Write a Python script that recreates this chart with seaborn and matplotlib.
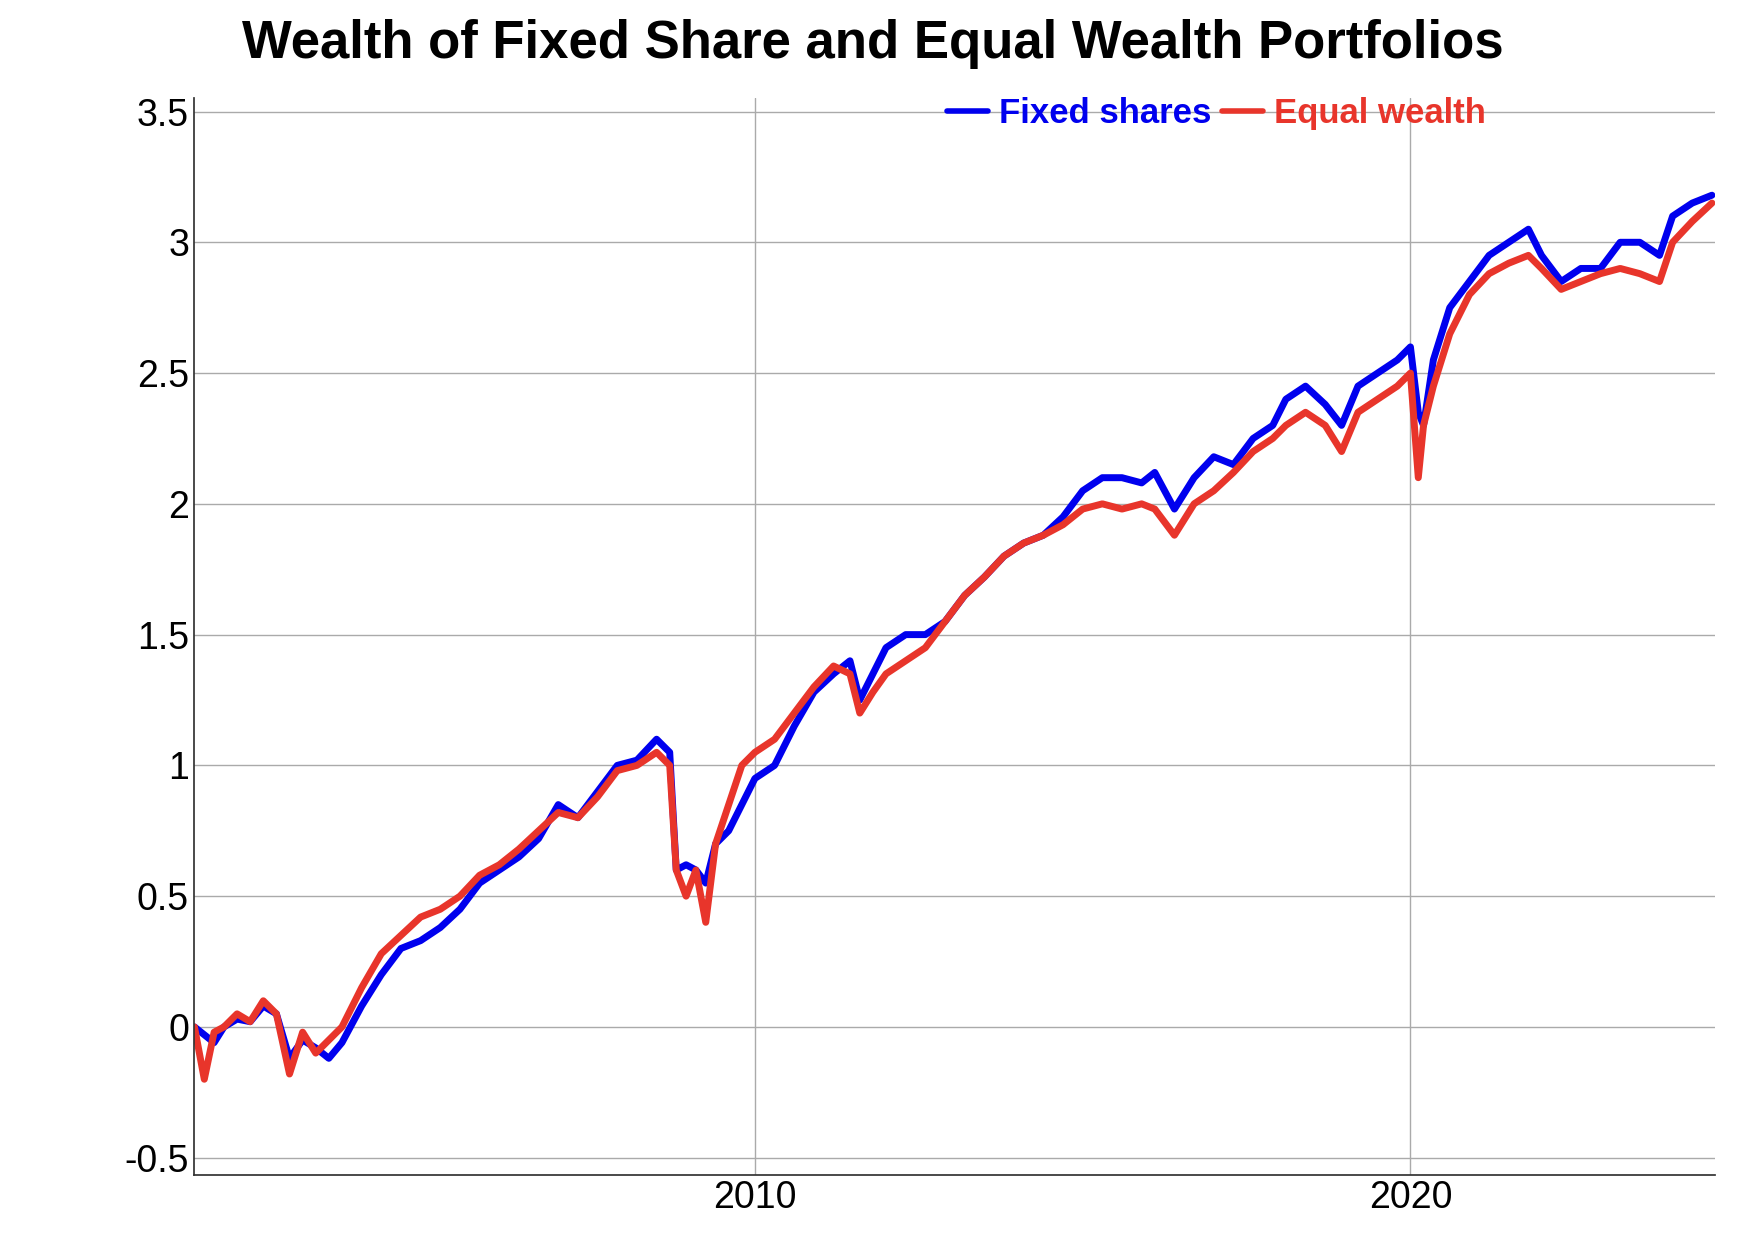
import matplotlib
matplotlib.use("Agg")
import matplotlib.pyplot as plt
import matplotlib.ticker as mticker
import pandas as pd
import seaborn as sns

sns.set_theme(style="white")
plt.rcParams['font.family'] = ['Liberation Sans', 'DejaVu Sans']
plt.rcParams['text.color'] = 'black'
plt.rcParams['xtick.color'] = 'black'
plt.rcParams['ytick.color'] = 'black'

years = [2001.45, 2001.6, 2001.75, 2001.9, 2002.1, 2002.3, 2002.5, 2002.7, 2002.9, 2003.1,
         2003.3, 2003.5, 2003.7, 2004.0, 2004.3, 2004.6, 2004.9, 2005.2, 2005.5, 2005.8,
         2006.1, 2006.4, 2006.7, 2007.0, 2007.3, 2007.6, 2007.9, 2008.2, 2008.5, 2008.7,
         2008.8, 2008.95, 2009.1, 2009.25, 2009.4, 2009.6, 2009.8, 2010.0, 2010.3, 2010.6,
         2010.9, 2011.2, 2011.45, 2011.6, 2011.8, 2012.0, 2012.3, 2012.6, 2012.9, 2013.2,
         2013.5, 2013.8, 2014.1, 2014.4, 2014.7, 2015.0, 2015.3, 2015.6, 2015.9, 2016.1,
         2016.4, 2016.7, 2017.0, 2017.3, 2017.6, 2017.9, 2018.1, 2018.4, 2018.7, 2018.95,
         2019.2, 2019.5, 2019.8, 2020.0, 2020.12, 2020.2, 2020.35, 2020.6, 2020.9, 2021.2,
         2021.5, 2021.8, 2022.0, 2022.3, 2022.6, 2022.9, 2023.2, 2023.5, 2023.8, 2024.0,
         2024.3, 2024.6]
fixed = [0.0, -0.03, -0.06, 0.0, 0.03, 0.02, 0.08, 0.05, -0.12, -0.05,
         -0.08, -0.12, -0.06, 0.08, 0.2, 0.3, 0.33, 0.38, 0.45, 0.55,
         0.6, 0.65, 0.72, 0.85, 0.8, 0.9, 1.0, 1.02, 1.1, 1.05,
         0.6, 0.62, 0.6, 0.55, 0.7, 0.75, 0.85, 0.95, 1.0, 1.15,
         1.28, 1.35, 1.4, 1.25, 1.35, 1.45, 1.5, 1.5, 1.55, 1.65,
         1.72, 1.8, 1.85, 1.88, 1.95, 2.05, 2.1, 2.1, 2.08, 2.12,
         1.98, 2.1, 2.18, 2.15, 2.25, 2.3, 2.4, 2.45, 2.38, 2.3,
         2.45, 2.5, 2.55, 2.6, 2.35, 2.3, 2.55, 2.75, 2.85, 2.95,
         3.0, 3.05, 2.95, 2.85, 2.9, 2.9, 3.0, 3.0, 2.95, 3.1,
         3.15, 3.18]
equal = [0.0, -0.2, -0.02, 0.0, 0.05, 0.02, 0.1, 0.05, -0.18, -0.02,
         -0.1, -0.05, 0.0, 0.15, 0.28, 0.35, 0.42, 0.45, 0.5, 0.58,
         0.62, 0.68, 0.75, 0.82, 0.8, 0.88, 0.98, 1.0, 1.05, 1.0,
         0.6, 0.5, 0.6, 0.4, 0.7, 0.85, 1.0, 1.05, 1.1, 1.2,
         1.3, 1.38, 1.35, 1.2, 1.28, 1.35, 1.4, 1.45, 1.55, 1.65,
         1.72, 1.8, 1.85, 1.88, 1.92, 1.98, 2.0, 1.98, 2.0, 1.98,
         1.88, 2.0, 2.05, 2.12, 2.2, 2.25, 2.3, 2.35, 2.3, 2.2,
         2.35, 2.4, 2.45, 2.5, 2.1, 2.3, 2.45, 2.65, 2.8, 2.88,
         2.92, 2.95, 2.9, 2.82, 2.85, 2.88, 2.9, 2.88, 2.85, 3.0,
         3.08, 3.15]

df = pd.DataFrame({"year": years * 2,
                   "wealth": fixed + equal,
                   "series": ["Fixed shares"] * len(years) + ["Equal wealth"] * len(years)})

fig, ax = plt.subplots(figsize=(17.46, 12.46), dpi=100)
sns.lineplot(data=df, x="year", y="wealth", hue="series",
             palette={"Fixed shares": "#0000ee", "Equal wealth": "#e8352b"},
             linewidth=5, ax=ax, legend=False)

ax.set_xlim(2001.44, 2024.64)
ax.set_ylim(-0.566, 3.55)
ax.set_xticks([2010, 2020])
ax.set_yticks([-0.5, 0, 0.5, 1, 1.5, 2, 2.5, 3, 3.5])
ax.yaxis.set_major_formatter(mticker.FuncFormatter(lambda v, p: f"{v:g}"))
ax.tick_params(labelsize=27, length=0)
ax.grid(True, color="#aaaaaa", linewidth=1)
ax.set_xlabel("")
ax.set_ylabel("")
for s in ["top", "right"]:
    ax.spines[s].set_visible(False)
for s in ["left", "bottom"]:
    ax.spines[s].set_color("#333333")

fig.suptitle("Wealth of Fixed Share and Equal Wealth Portfolios",
             fontsize=38, fontweight="bold", x=0.5, y=0.985)

handles = [plt.Line2D([], [], color="#0000ee", lw=4),
           plt.Line2D([], [], color="#e8352b", lw=4)]
leg = ax.legend(handles, ["Fixed shares", "Equal wealth"], loc="upper right",
                bbox_to_anchor=(0.87, 1.03), ncol=2, frameon=False,
                fontsize=25, handlelength=1.2, handletextpad=0.3, columnspacing=0.3)
for t, c in zip(leg.get_texts(), ["#0000ee", "#e8352b"]):
    t.set_color(c)
    t.set_fontweight("bold")

fig.subplots_adjust(left=0.111, right=0.982, top=0.921, bottom=0.057)
fig.savefig("out.png")
